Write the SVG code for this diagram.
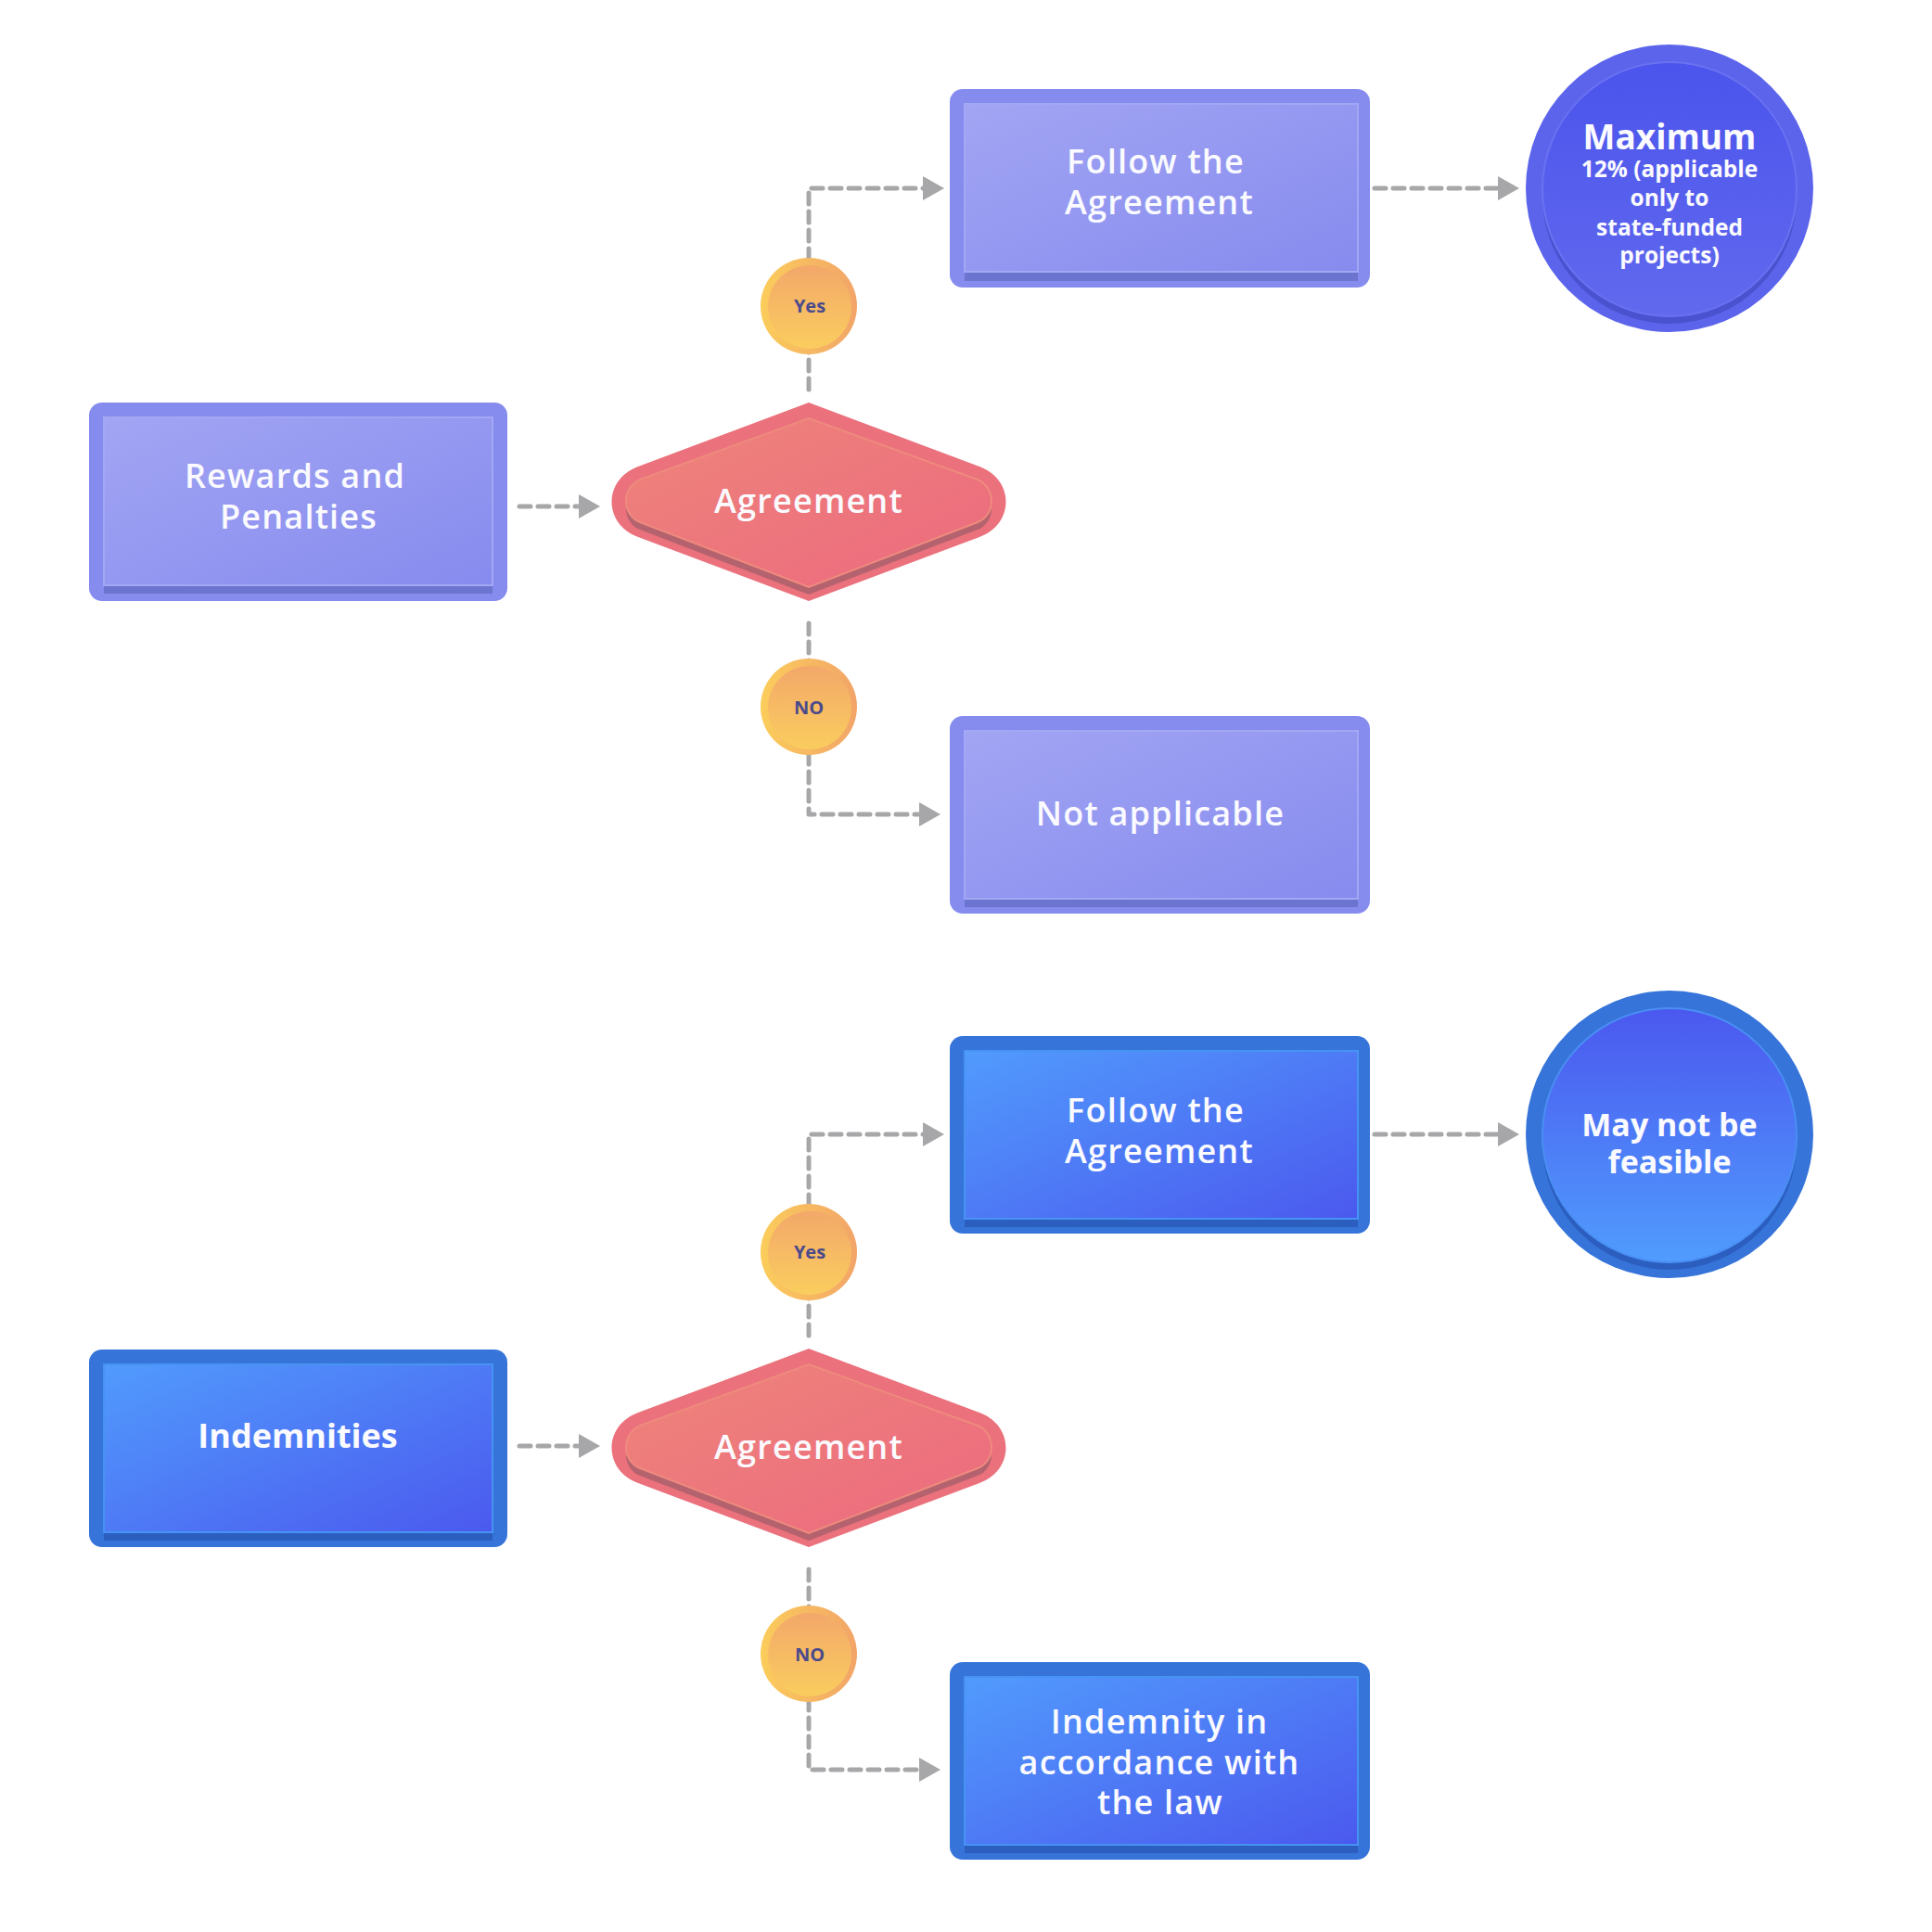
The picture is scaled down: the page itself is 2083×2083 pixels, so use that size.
<svg xmlns="http://www.w3.org/2000/svg" width="2083" height="2083" viewBox="0 0 2083 2083">
<defs>
<linearGradient id="gPurple" x1="0" y1="0" x2="1" y2="1"><stop offset="0" stop-color="#a2a5f3"/><stop offset="1" stop-color="#868bee"/></linearGradient>
<linearGradient id="gBlue" x1="0" y1="0" x2="1" y2="1"><stop offset="0" stop-color="#519bfd"/><stop offset="1" stop-color="#4b59ee"/></linearGradient>
<linearGradient id="gRed" x1="0" y1="0" x2="1" y2="1"><stop offset="0" stop-color="#ee857a"/><stop offset="1" stop-color="#ec697f"/></linearGradient>
<linearGradient id="gMax" x1="0" y1="0" x2="0" y2="1"><stop offset="0" stop-color="#4b54ec"/><stop offset="1" stop-color="#6169ee"/></linearGradient>
<linearGradient id="gMay" x1="0" y1="0" x2="0" y2="1"><stop offset="0" stop-color="#4b58ef"/><stop offset="1" stop-color="#509cfd"/></linearGradient>
<linearGradient id="gCoinOut" x1="0" y1="0" x2="1" y2="0"><stop offset="0" stop-color="#fbcd5b"/><stop offset="1" stop-color="#f2a468"/></linearGradient>
<linearGradient id="gCoinIn" x1="0" y1="0" x2="0" y2="1"><stop offset="0" stop-color="#f3a86a"/><stop offset="1" stop-color="#facd5e"/></linearGradient>
<marker id="arr" markerUnits="userSpaceOnUse" markerWidth="24" markerHeight="26" refX="12" refY="13" orient="auto"><path d="M0,0 L23,13 L0,26 Z" fill="#a7a7a9"/></marker>
<path id="diaOuter" d="M0,-107 L184,-38 C222,-24 222,24 184,38 L0,107 L-184,38 C-222,24 -222,-24 -184,-38 Z"/>
<path id="diaInner" d="M0,-90 L182,-24 C202,-15 202,14 182,22 L0,92 L-182,22 C-202,14 -202,-15 -182,-24 Z"/>
</defs>
<style>
.conn{fill:none;stroke:#a7a7a9;stroke-width:5;stroke-dasharray:12 8;stroke-linecap:round;stroke-linejoin:round}
.txt{font-family:"Open Sans","Liberation Sans",sans-serif;fill:#fafaff;text-anchor:middle}
.med{font-size:36px;font-weight:600;letter-spacing:1.2px}
.bold{font-weight:700}
.coin{font-family:"Open Sans","Liberation Sans",sans-serif;font-size:20px;font-weight:700;fill:#4b4a8c;text-anchor:middle}
.pOut{fill:#868cee}.pIn{fill:url(#gPurple);stroke:#a3a7f4;stroke-width:2}.pSh{fill:#6b74cf}
.bOut{fill:#3674d9}.bIn{fill:url(#gBlue);stroke:#4793f3;stroke-width:2}.bSh{fill:#2b5ebf}
</style>
<rect width="2083" height="2083" fill="#ffffff"/>

<g id="connectors">
<path class="conn" d="M560,546 L636,546" marker-end="url(#arr)"/>
<path class="conn" d="M872,420 L872,203 L1007,203" marker-end="url(#arr)"/>
<path class="conn" d="M872,672 L872,878 L1003,878" marker-end="url(#arr)"/>
<path class="conn" d="M1482,203 L1627,203" marker-end="url(#arr)"/>
<path class="conn" d="M560,1559 L636,1559" marker-end="url(#arr)"/>
<path class="conn" d="M872,1440 L872,1223 L1007,1223" marker-end="url(#arr)"/>
<path class="conn" d="M872,1692 L872,1908 L1003,1908" marker-end="url(#arr)"/>
<path class="conn" d="M1482,1223 L1627,1223" marker-end="url(#arr)"/>
</g>

<g id="rewards">
<rect class="pOut" x="96" y="434" width="451" height="214" rx="14"/>
<rect class="pSh" x="112" y="458" width="419" height="182"/>
<rect class="pIn" x="112" y="450" width="419" height="181"/>
<text class="txt med" x="318" y="526">Rewards and</text>
<text class="txt med" x="322" y="570">Penalties</text>
</g>

<g id="agreement1" transform="translate(872,541)">
<use href="#diaOuter" fill="#eb717c"/>
<use href="#diaInner" fill="#b4636e" transform="translate(0,8)"/>
<use href="#diaInner" fill="url(#gRed)" stroke="#ef8a7e" stroke-width="2"/>
<text class="txt med" x="0" y="12">Agreement</text>
</g>

<g id="yes1">
<circle cx="872" cy="330" r="52" fill="url(#gCoinOut)"/>
<circle cx="873" cy="331" r="45" fill="url(#gCoinIn)"/>
<text class="coin" x="873" y="337">Yes</text>
</g>

<g id="no1">
<circle cx="872" cy="762" r="52" fill="url(#gCoinOut)"/>
<circle cx="873" cy="763" r="45" fill="url(#gCoinIn)"/>
<text class="coin" x="872" y="770">NO</text>
</g>

<g id="follow1">
<rect class="pOut" x="1024" y="96" width="453" height="214" rx="14"/>
<rect class="pSh" x="1040" y="120" width="424" height="183"/>
<rect class="pIn" x="1040" y="112" width="424" height="181"/>
<text class="txt med" x="1246" y="187">Follow the</text>
<text class="txt med" x="1250" y="231">Agreement</text>
</g>

<g id="notapplicable">
<rect class="pOut" x="1024" y="772" width="453" height="213" rx="14"/>
<rect class="pSh" x="1040" y="796" width="424" height="182"/>
<rect class="pIn" x="1040" y="788" width="424" height="181"/>
<text class="txt med" x="1251" y="890">Not applicable</text>
</g>

<g id="maximum">
<circle cx="1800" cy="203" r="155" fill="#5c64ec"/>
<circle cx="1800" cy="212" r="137" fill="#4a52d0"/>
<circle cx="1800" cy="204" r="137" fill="url(#gMax)" stroke="#6a72f1" stroke-width="2"/>
<text class="txt bold" x="1800" y="161" font-size="37">Maximum</text>
<text class="txt bold" x="1800" y="191" font-size="24.5">12% (applicable</text>
<text class="txt bold" x="1800" y="222" font-size="24.5">only to</text>
<text class="txt bold" x="1800" y="254" font-size="24.5">state-funded</text>
<text class="txt bold" x="1800" y="284" font-size="24.5">projects)</text>
</g>

<g id="indemnities">
<rect class="bOut" x="96" y="1455" width="451" height="213" rx="14"/>
<rect class="bSh" x="112" y="1479" width="419" height="182"/>
<rect class="bIn" x="112" y="1471" width="419" height="181"/>
<text class="txt bold" x="321" y="1561" font-size="36">Indemnities</text>
</g>

<g id="agreement2" transform="translate(872,1561)">
<use href="#diaOuter" fill="#eb717c"/>
<use href="#diaInner" fill="#b4636e" transform="translate(0,8)"/>
<use href="#diaInner" fill="url(#gRed)" stroke="#ef8a7e" stroke-width="2"/>
<text class="txt med" x="0" y="12">Agreement</text>
</g>

<g id="yes2">
<circle cx="872" cy="1350" r="52" fill="url(#gCoinOut)"/>
<circle cx="873" cy="1351" r="45" fill="url(#gCoinIn)"/>
<text class="coin" x="873" y="1357">Yes</text>
</g>

<g id="no2">
<circle cx="872" cy="1783" r="52" fill="url(#gCoinOut)"/>
<circle cx="873" cy="1784" r="45" fill="url(#gCoinIn)"/>
<text class="coin" x="873" y="1791">NO</text>
</g>

<g id="follow2">
<rect class="bOut" x="1024" y="1117" width="453" height="213" rx="14"/>
<rect class="bSh" x="1040" y="1141" width="424" height="182"/>
<rect class="bIn" x="1040" y="1133" width="424" height="181"/>
<text class="txt med" x="1246" y="1210">Follow the</text>
<text class="txt med" x="1250" y="1254">Agreement</text>
</g>

<g id="mayNotBeFeasible">
<circle cx="1800" cy="1223" r="155" fill="#3674d9"/>
<circle cx="1800" cy="1232" r="137" fill="#2c5ec0"/>
<circle cx="1800" cy="1224" r="137" fill="url(#gMay)" stroke="#4a8ff3" stroke-width="2"/>
<text class="txt bold" x="1800" y="1225" font-size="34">May not be</text>
<text class="txt bold" x="1800" y="1265" font-size="34">feasible</text>
</g>

<g id="indemnityLaw">
<rect class="bOut" x="1024" y="1792" width="453" height="213" rx="14"/>
<rect class="bSh" x="1040" y="1816" width="424" height="182"/>
<rect class="bIn" x="1040" y="1808" width="424" height="181"/>
<text class="txt med" x="1250" y="1869">Indemnity in</text>
<text class="txt med" x="1250" y="1913">accordance with</text>
<text class="txt med" x="1251" y="1956">the law</text>
</g>
</svg>
